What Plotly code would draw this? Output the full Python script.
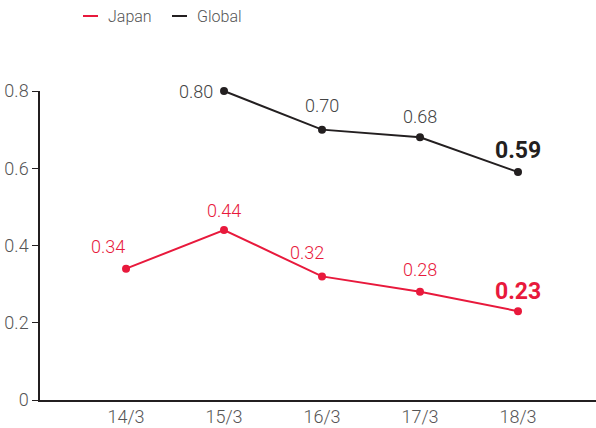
import plotly.graph_objects as go

categories = ["14/3", "15/3", "16/3", "17/3", "18/3"]
japan = [0.34, 0.44, 0.32, 0.28, 0.23]
global_vals = [None, 0.80, 0.70, 0.68, 0.59]
y_ticks = [0, 0.2, 0.4, 0.6, 0.8]
y_tick_labels = ["0", "0.2", "0.4", "0.6", "0.8"]

RED = "#e8193c"
BLACK = "#231f20"
GRAY = "#555555"
FONT = "Roboto"

# label offsets (xshift, yshift) per point
japan_off = [(-18, 22), (0, 20), (-15, 24), (0, 22), (0, 20)]
global_off = [None, (-28, 0), (0, 24), (0, 21), (0, 22)]

xs = list(range(len(categories)))

fig = go.Figure()
fig.add_trace(go.Scatter(
    x=xs, y=japan, mode="lines+markers", name="Japan",
    line=dict(color=RED, width=2), marker=dict(color=RED, size=8),
    cliponaxis=False, showlegend=False))
fig.add_trace(go.Scatter(
    x=xs, y=global_vals, mode="lines+markers", name="Global",
    line=dict(color=BLACK, width=2), marker=dict(color=BLACK, size=8),
    cliponaxis=False, showlegend=False))

annotations = []
n = len(categories)
for i, v in enumerate(japan):
    last = i == n - 1
    dx, dy = japan_off[i]
    annotations.append(dict(
        x=xs[i], y=v, xref="x", yref="y", text=f"{v:.2f}", showarrow=False,
        xshift=dx, yshift=dy,
        font=dict(family=FONT, size=23 if last else 18, color=RED,
                  weight=700 if last else 300)))
for i, v in enumerate(global_vals):
    if v is None:
        continue
    last = i == n - 1
    dx, dy = global_off[i]
    annotations.append(dict(
        x=xs[i], y=v, xref="x", yref="y", text=f"{v:.2f}", showarrow=False,
        xshift=dx, yshift=dy,
        font=dict(family=FONT, size=23 if last else 18,
                  color=BLACK if last else "#444444",
                  weight=700 if last else 300)))

# manual legend
legend_items = [("Japan", RED, 83), ("Global", BLACK, 172)]
shapes = []
for name, color, px in legend_items:
    shapes.append(dict(type="line", xref="paper", yref="paper",
                       x0=(px - 40) / 556, x1=(px - 25) / 556,
                       y0=(400 - 16) / 309, y1=(400 - 16) / 309,
                       line=dict(color=color, width=2)))
    annotations.append(dict(
        x=(px - 17) / 556, y=(400 - 16) / 309, xref="paper", yref="paper",
        text=name, showarrow=False, xanchor="left", yanchor="middle",
        font=dict(family=FONT, size=16, color=GRAY, weight=300)))

fig.update_layout(
    width=596, height=428,
    margin=dict(l=40, r=0, t=91, b=28),
    plot_bgcolor="white", paper_bgcolor="white",
    font=dict(family=FONT, size=18, color=GRAY, weight=300),
    annotations=annotations, shapes=shapes,
    xaxis=dict(
        range=[-0.878, 4.796], tickmode="array", tickvals=xs, ticktext=categories,
        showgrid=False, zeroline=False, showline=True, linecolor=BLACK, linewidth=1.5,
        ticks="", ticklabelstandoff=0, automargin=False,
        tickfont=dict(family=FONT, size=18, color=GRAY, weight=300),
        fixedrange=True),
    yaxis=dict(
        range=[0, 0.8], tickmode="array", tickvals=y_ticks, ticktext=y_tick_labels,
        showgrid=False, zeroline=False, showline=True, linecolor=BLACK, linewidth=1.5,
        ticks="outside", ticklen=6, tickcolor=BLACK, tickwidth=1, automargin=False,
        tickfont=dict(family=FONT, size=18, color=GRAY, weight=300),
        fixedrange=True),
)

fig.write_html("out.html", config={"displayModeBar": False},
               post_script="document.body.style.margin='0';document.body.style.overflow='hidden';")
